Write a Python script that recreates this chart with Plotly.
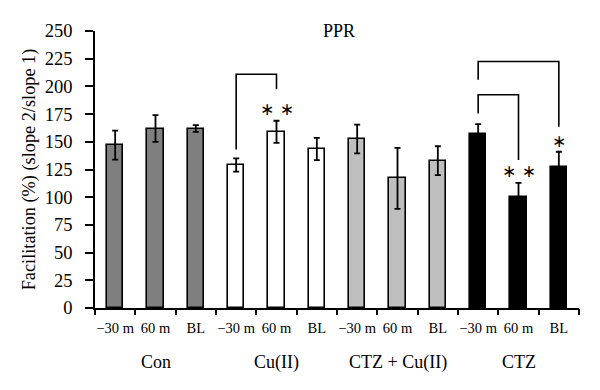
import plotly.graph_objects as go

# ---- data ----
groups = ["Con", "Cu(II)", "CTZ + Cu(II)", "CTZ"]
conditions = ["\u221230 m", "60 m", "BL"]
means = [
    [147, 162, 162],   # Con
    [129, 159, 143.5], # Cu(II)
    [152.5, 117, 133], # CTZ + Cu(II)
    [157, 100, 127],   # CTZ
]
errors = [
    [13, 12, 3],
    [6, 10, 10],
    [13, 27.5, 13],
    [9, 13, 14],
]
group_colors = ["#7f7f7f", "#ffffff", "#bfbfbf", "#000000"]

# significance brackets: (from index, to index, left foot, top, right foot)
brackets = [
    (3, 4, 143, 211, 197.5),
    (9, 11, 206, 222.5, 163.5),
    (9, 10, 175.5, 192.5, 133.5),
]
# asterisk marks: (index, y, text)
stars = [
    (4, 180, "\u2217 \u2217"),
    (10, 124, "\u2217 \u2217"),
    (11, 150.5, "\u2217"),
]
y_ticks = list(range(0, 251, 25))

FONT = "Liberation Serif, Times New Roman, serif"

fig = go.Figure()
tick_vals, tick_text = [], []
for gi, g in enumerate(groups):
    xs = [gi * 3 + k for k in range(3)]
    tick_vals += xs
    tick_text += conditions
    fig.add_trace(go.Bar(
        x=xs, y=means[gi], width=0.41,
        marker=dict(color=group_colors[gi], line=dict(color="#000000", width=1.6)),
        error_y=dict(type="data", array=errors[gi], visible=True,
                     color="#000000", thickness=1.8, width=3),
        showlegend=False, name=g,
    ))

for (a, b, ya, top, yb) in brackets:
    fig.add_trace(go.Scatter(
        x=[a, a, b, b], y=[ya, top, top, yb], mode="lines",
        line=dict(color="#000000", width=1.6), showlegend=False, hoverinfo="skip",
    ))

for (i, y, t) in stars:
    fig.add_annotation(x=i, y=y, text=t, showarrow=False,
                       font=dict(family="DejaVu Sans, sans-serif", size=17, color="#000000"),
                       xanchor="center", yanchor="middle")

for gi, g in enumerate(groups):
    fig.add_annotation(x=gi * 3 + 1, y=-0.195, yref="paper", text=g, showarrow=False,
                       font=dict(family=FONT, size=18, color="#000000"),
                       xanchor="center", yanchor="middle")

fig.add_annotation(x=0.504, xref="paper", y=1.0, yref="paper", text="PPR", showarrow=False,
                   font=dict(family=FONT, size=18, color="#000000"),
                   xanchor="center", yanchor="middle")

# boundary tick marks on an overlaid axis
fig.add_trace(go.Scatter(x=[-0.5, 11.5], y=[0, 0], xaxis="x2", mode="markers",
                         marker=dict(opacity=0), showlegend=False, hoverinfo="skip"))

fig.update_layout(
    width=600, height=390,
    margin=dict(l=87, r=29, t=23, b=90),
    paper_bgcolor="#ffffff", plot_bgcolor="#ffffff",
    font=dict(family=FONT, color="#000000"),
    bargap=0,
    xaxis=dict(range=[-0.5, 11.5], tickvals=tick_vals, ticktext=tick_text,
               ticks="", showline=True, linecolor="#000000", linewidth=1.6,
               showgrid=False, zeroline=False, ticklabelstandoff=6,
               tickfont=dict(family=FONT, size=14.5, color="#000000")),
    xaxis2=dict(range=[-0.5, 11.5], overlaying="x", anchor="y",
                tickvals=[k - 0.5 for k in range(13)], ticktext=[""] * 13,
                ticks="outside", ticklen=6, tickwidth=1.6, tickcolor="#000000",
                showline=False, showgrid=False, zeroline=False, side="bottom"),
    yaxis=dict(range=[0, 250], tickvals=y_ticks, ticks="outside", ticklen=8,
               tickwidth=1.6, tickcolor="#000000", showline=True, linecolor="#000000",
               linewidth=1.6, showgrid=False, zeroline=False,
               ticklabelstandoff=9,
               tickfont=dict(family=FONT, size=18.5, color="#000000")),
    yaxis_title=dict(text="Facilitation (%) (slope 2/slope 1)", standoff=4,
                     font=dict(family=FONT, size=18.3, color="#000000")),
)

fig.write_html("out.html")
